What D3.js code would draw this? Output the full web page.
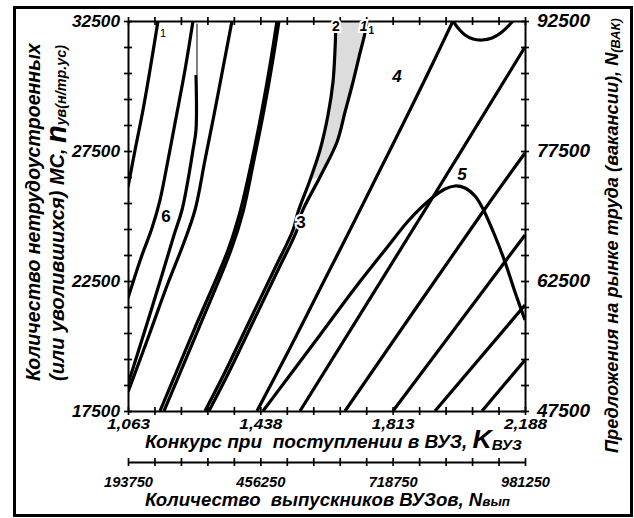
<!DOCTYPE html>
<html><head><meta charset="utf-8">
<script src="https://cdn.jsdelivr.net/npm/d3@7"></script>
<style>
html,body{margin:0;padding:0;background:#fff;}
svg{display:block;}
text{font-family:"Liberation Sans",Arial,sans-serif;font-weight:bold;font-style:italic;fill:#000;}
</style></head><body>
<svg id="c" width="634" height="518"></svg>
<script>
// ---------- tick labels ----------
const kTicks = [1.063, 1.438, 1.813, 2.188];
const kTickLabels = ["1,063", "1,438", "1,813", "2,188"];
const nTicks = [17500, 22500, 27500, 32500];
const nTickLabels = ["17500", "22500", "27500", "32500"];
const vakTicks = [47500, 62500, 77500, 92500];
const vakTickLabels = ["47500", "62500", "77500", "92500"];
const gradTicks = [193750, 456250, 718750, 981250];
const gradTickLabels = ["193750", "456250", "718750", "981250"];

// ---------- curves: [K_VUZ, n_uv] ----------
const curveB = [[1.063,26115],[1.083,27540],[1.1055,29077],[1.1253,30615],[1.148,32500]];
const curve6 = [[1.063,21846],[1.0998,23385],[1.131,24538],[1.1537,25615],[1.1764,27154],[1.199,28769],[1.2245,30615],[1.2472,32500]];
const curveC = [[1.063,18538],[1.1112,20615],[1.1593,22731],[1.1934,24269],[1.216,25231],[1.233,26385],[1.2472,27538],[1.2557,28308],[1.2557,30423]];
const curveCthin = [[1.2585,30423],[1.2585,32400]];
const curveD = [[1.063,18231],[1.1197,20308],[1.1764,22423],[1.2189,23885],[1.2529,25231],[1.2812,27154],[1.3067,28885],[1.3322,30692],[1.3577,32500]];
const curveE1 = [[1.1537,17500],[1.25,20615],[1.3464,23692],[1.3804,25154],[1.4144,27154],[1.4427,29077],[1.4654,30808],[1.4852,32500]];
const curveE2 = [[1.165,17500],[1.2614,20615],[1.3549,23692],[1.3889,25154],[1.42,27154],[1.4484,29077],[1.4711,30808],[1.4909,32500]];
const curve2 = [[1.2812,17500],[1.3379,19000],[1.4087,21000],[1.4796,23000],[1.5306,24462],[1.5448,25154],[1.5788,26385],[1.6071,27538],[1.6298,28885],[1.6439,30154],[1.6496,31385],[1.6524,32500]];
const curve1 = [[1.2925,17500],[1.3492,19000],[1.42,21000],[1.4909,23000],[1.5419,24462],[1.5561,25154],[1.6071,26500],[1.6553,27846],[1.678,29000],[1.7006,30154],[1.7176,31115],[1.7346,32038],[1.7403,32500]];
const curve4 = [[1.4286,17500],[1.5221,19923],[1.6127,22346],[1.6921,24462],[1.7771,26769],[1.8621,29077],[1.9244,30808],[1.984,32500]];
const curveU = [[1.984,32500],[1.9981,32231],[2.018,31962],[2.0407,31808],[2.0662,31769],[2.0945,31846],[2.1228,32077],[2.154,32500]];
const curve5 = [[1.4456,17500],[1.5221,18885],[1.6071,20423],[1.7063,22231],[1.7913,23692],[1.8621,24885],[1.9244,25692],[1.9613,26038],[1.9896,26154],[2.018,26077],[2.0463,25769],[2.0662,25346],[2.103,24231],[2.1313,23231],[2.1596,22077],[2.188,21000]];
const line1 = [[1.5504,17500],[1.9046,25231],[2.188,31500]];
const line2 = [[1.678,17500],[2.0662,25115],[2.188,27423]];
const line3 = [[1.8139,17500],[2.188,24269]];
const line4 = [[1.933,17500],[2.188,21577]];
const line5 = [[2.0662,17500],[2.188,19462]];

const curveLabels = [
  {t:"6", k:1.1707, n:24769, it:false, fs:17},
  {t:"4", k:1.8253, n:30154, it:true, fs:17},
  {t:"5", k:2.0095, n:26385, it:true, fs:17},
  {t:"3", k:1.5532, n:24538, it:false, fs:17},
  {t:"2", k:1.6524, n:32115, it:false, fs:14},
  {t:"1", k:1.7403, n:32115, it:true, fs:14, sub:"1"}
];

// ---------- scales ----------
const X0 = 128, X1 = 525, Y0 = 411, Y1 = 21;
const x = d3.scaleLinear().domain([1.063, 2.188]).range([X0, X1]);
const y = d3.scaleLinear().domain([17500, 32500]).range([Y0, Y1]);
const yR = d3.scaleLinear().domain([47500, 92500]).range([Y0, Y1]);
const x2 = d3.scaleLinear().domain([193750, 981250]).range([X0, X1]);

const kMinor = d3.range(16).map(i => +(1.063 + i * 0.075).toFixed(4));
const nMinor = d3.range(16).map(i => 17500 + i * 1000);
const vMinor = d3.range(16).map(i => 47500 + i * 3000);
const gMinor = d3.range(16).map(i => 193750 + i * 52500);

const svg = d3.select("#c");
svg.append("rect").attr("width", 634).attr("height", 518).attr("fill", "#fff");

const fmt = (ticks, labels) => v => {
  const i = ticks.findIndex(t => Math.abs(t - v) < 1e-6 * Math.max(1, Math.abs(t)));
  return i >= 0 ? labels[i] : "";
};

function styleAxis(g, orient, fs, tlen) {
  g.attr("font-family", null).attr("font-size", null);
  g.select(".domain").attr("stroke", "#000").attr("stroke-width", 2);
  const tl = g.selectAll(".tick line").attr("stroke", "#000").attr("stroke-width", 1.7);
  if (orient === "h") tl.attr("y1", -4).attr("y2", 4);
  else tl.attr("x1", -4).attr("x2", 4);
  g.selectAll(".tick text").attr("font-size", fs).each(function() {
    if (this.textContent && tlen) d3.select(this).attr("textLength", tlen).attr("lengthAdjust", "spacingAndGlyphs");
  });
}

// gray region between curves 2 and 1
const grayPoly = curve2.filter(d => d[1] >= 26000).concat(curve1.filter(d => d[1] >= 26000).reverse());
svg.append("clipPath").attr("id", "pc").append("rect")
  .attr("x", X0).attr("y", Y1).attr("width", X1 - X0).attr("height", Y0 - Y1);
const plot = svg.append("g").attr("clip-path", "url(#pc)");
plot.append("path").datum(grayPoly)
  .attr("d", d3.line().x(d => x(d[0])).y(d => y(d[1])).curve(d3.curveLinearClosed))
  .attr("fill", "#dcdcdc").attr("stroke", "none");

const lineGen = d3.line().x(d => x(d[0])).y(d => y(d[1])).curve(d3.curveCatmullRom.alpha(0.5));
[curveB, curve6, curveC, curveD, curveE1, curveE2, curve2, curve1, curve4, curveU, curve5, line1, line2, line3, line4, line5]
  .forEach(c => plot.append("path").datum(c).attr("d", lineGen)
    .attr("fill", "none").attr("stroke", "#000").attr("stroke-width", 3.2));
plot.append("path").datum(curveCthin).attr("d", lineGen)
  .attr("fill", "none").attr("stroke", "#000").attr("stroke-width", 1);

// ---------- axes ----------
const gB = svg.append("g").attr("transform", `translate(0,${Y0})`)
  .call(d3.axisBottom(x).tickValues(kMinor).tickSize(4).tickSizeOuter(0).tickPadding(3).tickFormat(fmt(kTicks, kTickLabels)));
styleAxis(gB, "h", 15.5, 43);
const gT = svg.append("g").attr("transform", `translate(0,${Y1})`)
  .call(d3.axisTop(x).tickValues(kMinor).tickSize(4).tickSizeOuter(0).tickFormat(""));
styleAxis(gT, "h", 15, 0);
const gL = svg.append("g").attr("transform", `translate(${X0},0)`)
  .call(d3.axisLeft(y).tickValues(nMinor).tickSize(4).tickSizeOuter(0).tickPadding(4).tickFormat(fmt(nTicks, nTickLabels)));
styleAxis(gL, "v", 16.5, 48);
const gR = svg.append("g").attr("transform", `translate(${X1},0)`)
  .call(d3.axisRight(yR).tickValues(vMinor).tickSize(4).tickSizeOuter(0).tickPadding(8).tickFormat(fmt(vakTicks, vakTickLabels)));
styleAxis(gR, "v", 17.5, 53);
const gG = svg.append("g").attr("transform", `translate(0,462)`)
  .call(d3.axisBottom(x2).tickValues(gMinor).tickSize(4).tickSizeOuter(0).tickPadding(10).tickFormat(fmt(gradTicks, gradTickLabels)));
styleAxis(gG, "h", 15, 49);

// ---------- curve labels ----------
curveLabels.forEach(l => {
  const t = svg.append("text").attr("x", x(l.k)).attr("y", y(l.n))
    .attr("text-anchor", "middle").attr("font-size", l.fs)
    .style("font-style", l.it ? "italic" : "normal")
    .attr("stroke", "#fff").attr("stroke-width", 4).attr("paint-order", "stroke")
    .text(l.t);
  if (l.sub) t.append("tspan").attr("font-size", "0.72em").attr("dy", "0.3em").attr("dx", "1").style("font-style", "normal").text(l.sub);
});
svg.append("text").attr("x", x(1.1622)).attr("y", y(31885)).attr("text-anchor", "middle")
  .attr("font-size", 11).style("font-weight", "normal").style("font-style", "normal").text("1");

// ---------- titles ----------
function fitText(t, target) {
  const L = t.node().getComputedTextLength();
  const fs = parseFloat(t.attr("font-size"));
  if (L > 0) t.attr("font-size", fs * target / L);
}
const tx = svg.append("text").attr("x", 145).attr("y", 448).attr("font-size", 17).style("white-space", "pre");
tx.append("tspan").text("Конкурс при  поступлении в ВУЗ, ");
tx.append("tspan").attr("font-size", "1.4em").text("K");
tx.append("tspan").attr("font-size", "0.8em").attr("dy", "0.15em").text("ВУЗ");
fitText(tx, 377);
const tx2 = svg.append("text").attr("x", 145).attr("y", 506).attr("font-size", 17).style("white-space", "pre");
tx2.append("tspan").text("Количество  выпускников ВУЗов, ");
tx2.append("tspan").text("N");
tx2.append("tspan").attr("font-size", "0.72em").text("вып");
fitText(tx2, 365);
const ty1 = svg.append("text").attr("transform", "translate(40,381) rotate(-90)").attr("font-size", 19).style("white-space", "pre")
  .text("Количество нетрудоустроенных");
fitText(ty1, 338);
const ty2 = svg.append("text").attr("transform", "translate(64,381) rotate(-90)").attr("font-size", 19).style("white-space", "pre");
ty2.append("tspan").text("(или уволившихся) МС, ");
ty2.append("tspan").attr("font-size", "1.45em").attr("dy", "0.08em").text("n");
ty2.append("tspan").attr("font-size", "0.72em").attr("dy", "-0.05em").text("ув(н/тр.ус)");
fitText(ty2, 336);
const tr = svg.append("text").attr("transform", "translate(618,453) rotate(-90)").attr("font-size", 19).style("white-space", "pre");
tr.append("tspan").text("Предложения на рынке труда (вакансии), ");
tr.append("tspan").text("N");
tr.append("tspan").attr("font-size", "0.7em").attr("dy", "0.15em").text("(ВАК)");
fitText(tr, 435);

// frame
svg.append("rect").attr("x", 14.5).attr("y", 7.5).attr("width", 617).attr("height", 508)
  .attr("fill", "none").attr("stroke", "#000").attr("stroke-width", 3);
</script>
</body></html>
